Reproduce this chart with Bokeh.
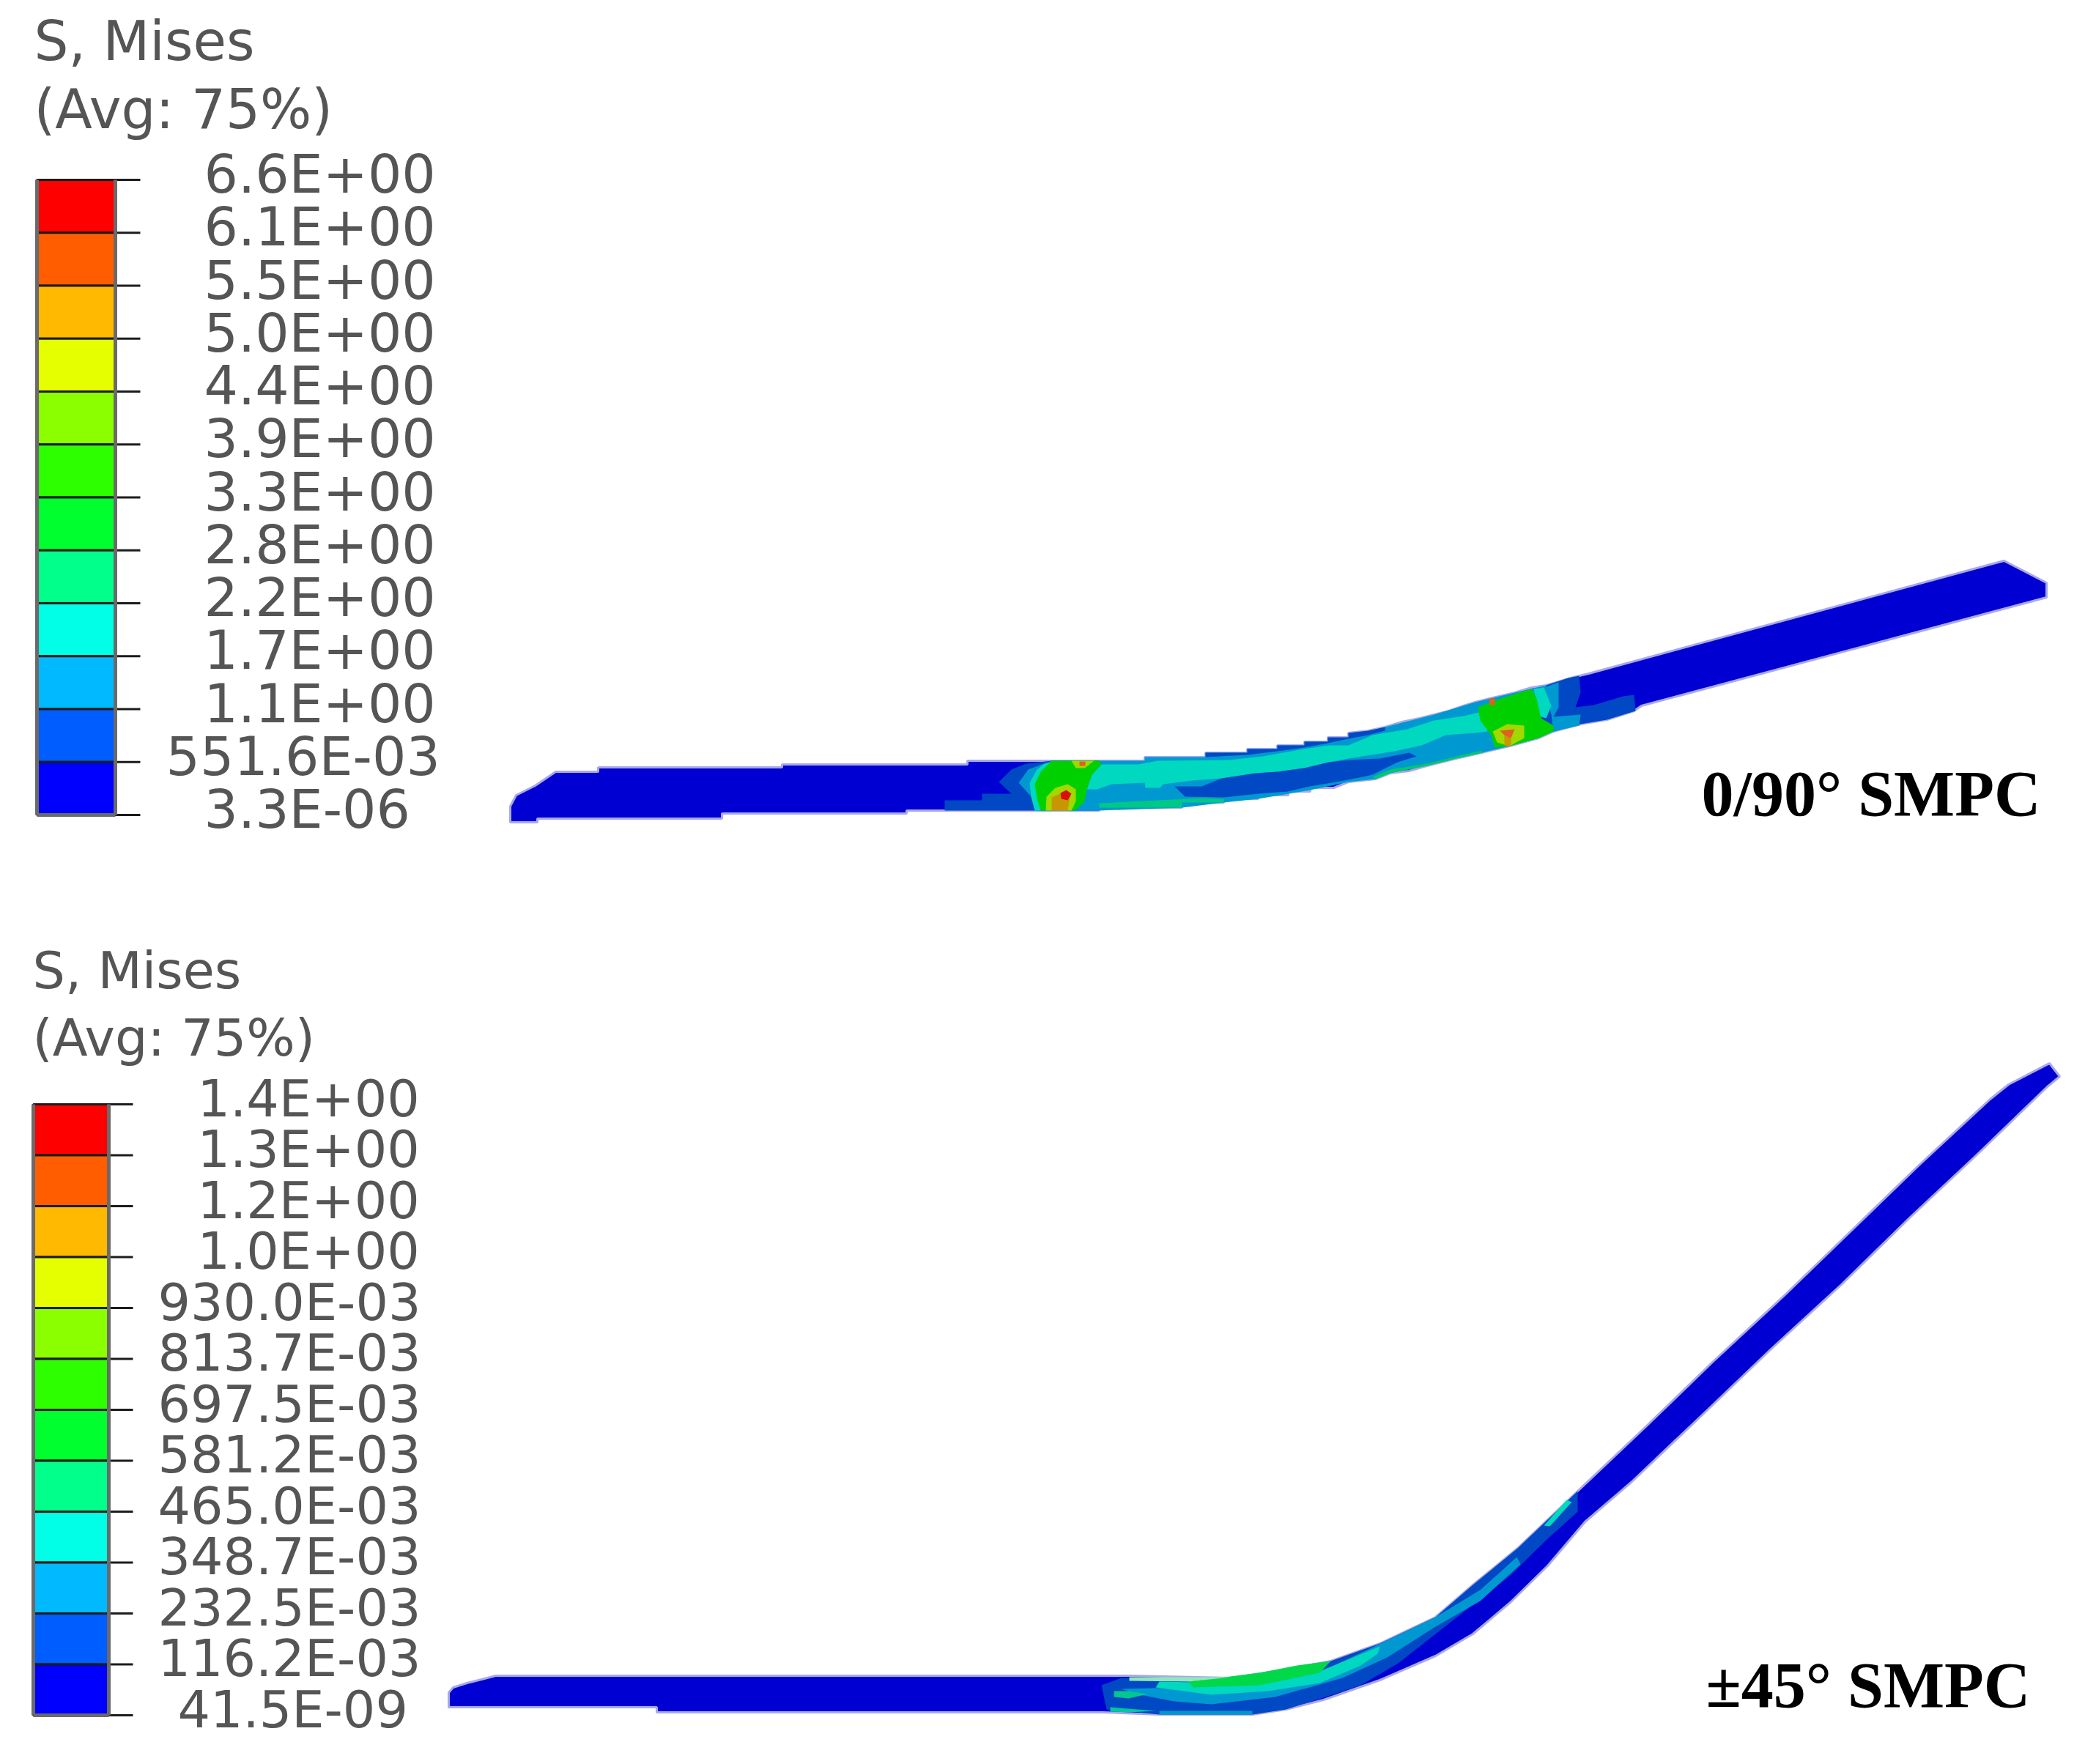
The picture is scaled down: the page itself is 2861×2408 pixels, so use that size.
import numpy as np
from bokeh.plotting import figure
from bokeh.core.properties import value
from bokeh.embed import file_html
from bokeh.models import Range1d
from bokeh.resources import INLINE

band_colors = ["#ff0000", "#ff5d00", "#ffb900", "#e6ff00", "#8bff00", "#2eff00",
               "#00ff2e", "#00ff8b", "#00ffe6", "#00b9ff", "#005dff", "#0000ff"]
labels_090 = ["6.6E+00", "6.1E+00", "5.5E+00", "5.0E+00", "4.4E+00", "3.9E+00", "3.3E+00",
              "2.8E+00", "2.2E+00", "1.7E+00", "1.1E+00", "551.6E-03", "3.3E-06"]
labels_45 = ["1.4E+00", "1.3E+00", "1.2E+00", "1.0E+00", "930.0E-03", "813.7E-03", "697.5E-03",
             "581.2E-03", "465.0E-03", "348.7E-03", "232.5E-03", "116.2E-03", "41.5E-09"]

# muted contour colours of the plate itself
DARK, BLUE, SKY, TEAL = "#0000d2", "#0048c4", "#0098d0", "#00d8c0"
GREEN, LIME, AMBER, ORANGE, RED = "#00d000", "#a0d800", "#c89600", "#e06020", "#d81000"

# outlines, x and y in picture pixels
plate_090 = [(696, 1100), (704, 1085), (730, 1072), (758, 1053), (816, 1053), (816, 1047), (1067, 1047),
             (1067, 1043), (1320, 1043), (1320, 1038), (1562, 1038), (1562, 1033), (1645, 1033),
             (1645, 1027), (1702, 1027), (1702, 1022), (1743, 1022), (1743, 1017), (1780, 1017),
             (1780, 1012), (1812, 1012), (1812, 1006), (1840, 1006), (1840, 1000), (1867, 997),
             (1890, 992), (1913, 985), (1937, 980), (1957, 975), (1977, 970), (1997, 963),
             (2013, 958), (2033, 953), (2067, 945), (2090, 938), (2110, 935), (2127, 930),
             (2147, 924), (2168, 919), (2716, 770), (2735, 765), (2793, 795), (2793, 815),
             (2240, 963), (2230, 970), (2193, 982), (2157, 988), (2120, 998), (2100, 1007),
             (2060, 1018), (2022, 1027), (1987, 1035), (1947, 1045), (1923, 1052), (1897, 1055),
             (1877, 1063), (1840, 1067), (1820, 1075), (1788, 1075), (1788, 1080), (1758, 1080),
             (1758, 1085), (1717, 1085), (1717, 1090), (1670, 1090), (1670, 1095), (1613, 1095),
             (1613, 1102), (1500, 1102), (1500, 1106), (1237, 1106), (1237, 1110), (985, 1110),
             (985, 1117), (733, 1117), (733, 1122), (696, 1122)]

zones_090 = [
    (BLUE, [(1340, 1106), (1340, 1083), (1380, 1083), (1363, 1067), (1380, 1050), (1400, 1042),
            (1435, 1038), (1500, 1038), (1500, 1106), (1289, 1106), (1289, 1092), (1340, 1092)]),
    (SKY, [(1412, 1106), (1407, 1087), (1390, 1068), (1403, 1050), (1435, 1038), (1562, 1038),
           (1562, 1033), (1645, 1033), (1645, 1027), (1702, 1027), (1702, 1022), (1743, 1022),
           (1743, 1017), (1780, 1017), (1780, 1012), (1812, 1012), (1840, 1006), (1890, 992),
           (1957, 975), (2013, 958), (2067, 945), (2110, 935), (2127, 930), (2127, 968),
           (2120, 998), (2100, 1007), (2060, 1018), (2022, 1027), (1987, 1035), (1947, 1045),
           (1897, 1055), (1877, 1063), (1840, 1067), (1788, 1078), (1717, 1090), (1670, 1095),
           (1613, 1102), (1500, 1106)]),
    (BLUE, [(1645, 1027), (1702, 1027), (1702, 1022), (1743, 1022), (1743, 1017), (1780, 1017),
            (1780, 1012), (1812, 1012), (1812, 1006), (1840, 1006), (1840, 1000), (1867, 997),
            (1890, 992), (1890, 997), (1867, 1003), (1840, 1008), (1812, 1014), (1780, 1020),
            (1743, 1025), (1702, 1030), (1645, 1033)]),
    ("#00c888", [(1500, 1102), (1613, 1102), (1613, 1095), (1670, 1095), (1670, 1090), (1640, 1089),
                 (1500, 1096)]),
    ("#00c870", [(1873, 1060), (1897, 1050), (1947, 1042), (1987, 1032), (2022, 1024), (2024, 1027),
                 (1987, 1035), (1947, 1045), (1897, 1055), (1877, 1063)]),
    (TEAL, [(1503, 1043), (1553, 1043), (1580, 1038), (1677, 1037), (1723, 1032), (1773, 1023),
            (1813, 1017), (1840, 1017), (1873, 1003), (1920, 995), (1957, 983), (1997, 977),
            (2027, 970), (2030, 998), (2013, 1000), (1973, 1003), (1940, 1017), (1903, 1025),
            (1840, 1035), (1813, 1040), (1780, 1048), (1743, 1053), (1713, 1055), (1667, 1062),
            (1627, 1065), (1587, 1070), (1583, 1075), (1563, 1075), (1562, 1068), (1517, 1070),
            (1497, 1077), (1483, 1077), (1490, 1057)]),
    (BLUE, [(1603, 1073), (1640, 1073), (1667, 1062), (1713, 1055), (1743, 1053), (1780, 1048),
            (1813, 1040), (1840, 1037), (1883, 1035), (1923, 1027), (1933, 1032), (1907, 1040),
            (1873, 1057), (1860, 1060), (1823, 1067), (1787, 1073), (1757, 1080), (1717, 1083),
            (1670, 1088), (1617, 1087)]),
    (TEAL, [(1425, 1042), (1445, 1038), (1420, 1106), (1412, 1106), (1407, 1087), (1405, 1068), (1415, 1050)]),
    (GREEN, [(1435, 1038), (1500, 1038), (1503, 1043), (1490, 1057), (1483, 1077), (1480, 1093),
             (1467, 1106), (1420, 1106), (1415, 1090), (1412, 1070), (1420, 1053)]),
    (LIME, [(1462, 1038), (1493, 1038), (1480, 1048), (1468, 1048)]),
    (ORANGE, [(1473, 1039), (1481, 1039), (1481, 1045), (1473, 1045)]),
    (LIME, [(1440, 1075), (1457, 1070), (1468, 1077), (1468, 1093), (1462, 1106), (1427, 1106), (1428, 1087)]),
    (AMBER, [(1435, 1088), (1447, 1083), (1460, 1087), (1457, 1106), (1435, 1106)]),
    (RED, [(1447, 1082), (1455, 1078), (1462, 1083), (1457, 1092), (1448, 1090)]),
    (BLUE, [(2110, 935), (2140, 925), (2155, 922), (2157, 945), (2150, 965), (2175, 962), (2215, 950),
            (2230, 948), (2232, 970), (2193, 982), (2157, 988), (2120, 998), (2100, 1000)]),
    (SKY, [(2107, 938), (2127, 931), (2127, 965), (2120, 978), (2157, 975), (2155, 990), (2120, 998), (2117, 975)]),
    (TEAL, [(2093, 940), (2107, 938), (2117, 963), (2110, 980), (2100, 977)]),
    (GREEN, [(2017, 965), (2037, 957), (2067, 947), (2090, 940), (2097, 953), (2103, 980), (2120, 990),
             (2120, 998), (2100, 1007), (2060, 1018), (2040, 1020), (2035, 1003), (2020, 983)]),
    (LIME, [(2037, 998), (2057, 988), (2080, 990), (2080, 1007), (2060, 1018), (2043, 1013)]),
    (AMBER, [(2053, 1003), (2062, 1003), (2062, 1018), (2053, 1017)]),
    (ORANGE, [(2047, 997), (2067, 995), (2062, 1007), (2053, 1003)]),
    (ORANGE, [(2032, 953), (2040, 953), (2040, 962), (2033, 962)]),
]

plate_45 = [(612, 2310), (618, 2303), (637, 2297), (657, 2292), (676, 2287), (1543, 2287), (1679, 2290),
            (1745, 2280), (1816, 2267), (1883, 2243), (1959, 2207), (2010, 2163), (2071, 2113),
            (2153, 2035), (2246, 1947), (2338, 1858), (2435, 1768), (2527, 1679), (2619, 1590),
            (2716, 1500), (2741, 1480), (2797, 1451), (2811, 1469), (2794, 1483), (2702, 1572),
            (2607, 1661), (2513, 1753), (2416, 1842), (2323, 1931), (2226, 2023), (2163, 2077),
            (2112, 2137), (2061, 2187), (2010, 2230), (1959, 2260), (1883, 2293), (1806, 2320),
            (1755, 2333), (1709, 2340), (1582, 2340), (1505, 2337), (896, 2337), (896, 2330), (612, 2330)]

zones_45 = [
    (BLUE, [(1530, 2290), (1679, 2290), (1745, 2280), (1816, 2267), (1883, 2243), (1959, 2207),
            (2010, 2163), (2071, 2113), (2153, 2035), (2153, 2063), (2112, 2100), (2061, 2150),
            (2010, 2190), (1959, 2230), (1908, 2270), (1857, 2300), (1806, 2317), (1755, 2333),
            (1709, 2340), (1582, 2340), (1510, 2333), (1503, 2300)]),
    (SKY, [(1530, 2305), (1730, 2300), (1806, 2280), (1880, 2245), (1959, 2207), (2020, 2170),
           (2070, 2125), (2075, 2135), (2020, 2185), (1959, 2220), (1893, 2262), (1832, 2290),
           (1740, 2316), (1653, 2326), (1602, 2322), (1551, 2312)]),
    (TEAL, [(1796, 2283), (1883, 2247), (1880, 2257), (1857, 2273), (1801, 2297), (1730, 2308),
            (1653, 2313), (1577, 2303), (1582, 2295), (1679, 2297)]),
    ("#00d848", [(1622, 2295), (1679, 2288), (1719, 2283), (1770, 2273), (1816, 2267), (1801, 2283),
                 (1719, 2300), (1628, 2303)]),
    ("#90e8b8", [(1541, 2289), (1679, 2289), (1622, 2295), (1541, 2294)]),
    ("#00c890", [(1520, 2308), (1540, 2308), (1566, 2312), (1540, 2318), (1520, 2316)]),
    ("#00c8a0", [(1515, 2330), (1577, 2335), (1540, 2337), (1515, 2336)]),
    ("#0098c8", [(1582, 2335), (1709, 2335), (1709, 2340), (1582, 2340)]),
    (TEAL, [(2138, 2047), (2107, 2082), (2115, 2083), (2145, 2050)]),
]

W, H = 2845, 2392


def draw_plate(p, outline, zones):
    xs, ys = zip(*outline)
    # pale rim stands in for the soft edge of the screenshot
    p.patch(list(xs), list(ys), fill_color=DARK, line_color="#a8a8ec", line_width=3)
    for color, pts in zones:
        zx, zy = zip(*pts)
        p.patch(list(zx), list(zy), fill_color=color, line_color=None)


def draw_legend(p, labels, left, right, tick_end, top, bottom, title_x, title_ys, label_left, char_w, size, title_size):
    edges = np.linspace(top, bottom, len(labels))
    p.quad(left=left, right=right, top=edges[:-1], bottom=edges[1:], fill_color=band_colors,
           line_color="#1c1c1c", line_width=3)
    p.segment(x0=right, x1=tick_end, y0=edges, y1=edges, line_color="#1c1c1c", line_width=3)
    p.segment(x0=[left, right, left], x1=[left, right, right], y0=[top, top, bottom], y1=[bottom, bottom, bottom],
              line_color="#6a6a6a", line_width=5)
    label_x = [label_left + char_w * (9 - len(s)) for s in labels]
    p.text(x=label_x, y=edges - 8, text=labels, text_font=value("DejaVu Sans"), text_font_size=size,
           text_color="#555555", text_align="left", text_baseline="middle")
    p.text(x=[title_x, title_x], y=title_ys, text=["S, Mises", "(Avg: 75%)"], text_font=value("DejaVu Sans"),
           text_font_size=title_size, text_color="#555555", text_align="left", text_baseline="middle")


p = figure(width=W, height=H, x_range=Range1d(0, W), y_range=Range1d(H, 0),
           x_axis_type=None, y_axis_type=None, output_backend="svg", toolbar_location=None,
           min_border=0, outline_line_color=None)
p.grid.visible = False

draw_plate(p, plate_090, zones_090)
draw_plate(p, plate_45, zones_45)

draw_legend(p, labels_090, 50, 157, 191, 245, 1112, 46, [55, 148], 226, 26, "73px", "74px")
draw_legend(p, labels_45, 45, 148, 181, 1507, 2341, 44, [1324, 1416], 215, 27, "70px", "70px")

p.text(x=[2322, 2328, ], y=[1083, 2300], text=["0/90° SMPC", "±45° SMPC"],
       text_font=value("Liberation Serif"), text_font_style="bold", text_font_size="88px",
       text_color="#000000", text_align="left", text_baseline="middle")

open("out.html", "w").write(file_html(p, INLINE))
